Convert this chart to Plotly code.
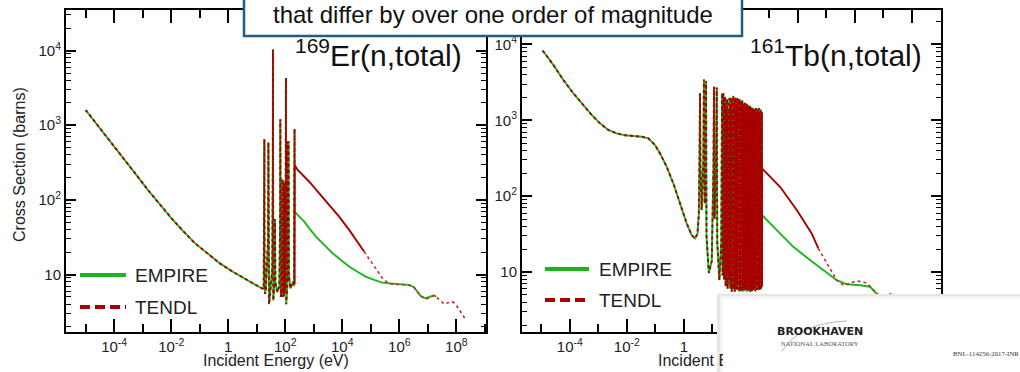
import plotly.graph_objects as go

# ---------------- data: 169Er(n,total) ----------------
# shared part (thermal + resolved resonances), identical in both libraries
er_E_low = [1.0e-5, 2.4e-5, 7.0e-5, 2.06e-4, 6.05e-4, 1.54e-3, 3.95e-3, 1.01e-2, 2.58e-2, 6.6e-2,
            0.17, 0.495, 1.45, 4.25, 14.2,
            17.5, 18.3, 18.5, 18.7, 19.5, 21.0, 25.0, 25.6, 26.2, 27.0, 30.0, 35.0, 36.6, 37.0, 37.4,
            38.0, 41.0, 43.5, 45.0, 52.0, 62.0, 66.2, 67.0, 67.8, 70.0, 76.0, 80.0, 83.0, 86.5, 89.5,
            93.0, 97.0, 103.0, 105.5, 106.5, 108.0, 118.0, 121.0, 124.0, 128.0, 131.0, 134.0, 150.0,
            190.0, 205.0, 211.5, 212.5]
er_xs_low = [1600, 1050, 615, 360, 215, 135, 87, 57, 38.5, 26.5,
             19.8, 14.2, 10.9, 8.5, 6.6,
             6.4, 60, 650, 20, 5.5, 6.5, 30, 590, 8, 4.0, 6.0, 12, 300, 10300, 200,
             4.5, 7, 55, 8, 5.8, 7, 60, 1200, 15, 5, 8, 190, 5, 180, 5.1,
             170, 6, 20, 4300, 60, 4.0, 7, 610, 8, 20, 610, 10, 6.5,
             8, 7, 890, 7.5]
er_empire_E_hi = [213, 310, 465, 695, 1190, 2320, 4540, 8890, 1.74e4, 3.4e4, 6.65e4, 1.3e5, 2.54e5,
                  4.98e5, 9.7e5, 2.18e6, 3.26e6, 4.26e6, 5.57e6, 8.3e6, 1.25e7, 1.63e7, 1.97e7]
er_empire_xs_hi = [69.5, 59.7, 51.2, 41.6, 32.2, 24.9, 19.3, 15.7, 12.8, 10.9, 9.4, 8.47, 7.8,
                   7.57, 7.4, 7.27, 6.76, 5.9, 5.17, 4.81, 5.07, 5.23, 5.07]
er_tendl_E_hi = [213, 272, 406, 695, 1550, 3470, 7760, 1.74e4, 3.4e4, 5.81e4, 8.69e4, 1.49e5, 2.54e5,
                 3.8e5, 5.7e5, 9.7e5, 2.18e6, 3.26e6, 4.26e6, 5.57e6, 8.3e6, 1.25e7, 1.63e7, 2.44e7,
                 3.65e7, 5.46e7, 7.13e7, 9.3e7, 1.22e8, 1.6e8, 1.98e8]
er_tendl_xs_hi = [293, 251, 215, 175, 122, 85.5, 59.7, 39.6, 27.6, 20.3, 16.5, 12.1, 8.9,
                  7.8, 7.4, 7.4, 7.27, 6.76, 5.9, 5.17, 4.67, 5.07, 5.23, 4.67,
                  4.04, 4.21, 4.35, 4.04, 3.43, 2.97, 2.6]
er_tendl_dense_end = 5.81e4   # TENDL drawn with dense points (looks solid) up to here

# ---------------- data: 161Tb(n,total) ----------------
tb_E_low = [1.11e-5, 2.62e-5, 5.89e-5, 1.32e-4, 2.96e-4, 5.81e-4, 1.14e-3, 2.23e-3, 4.39e-3, 8.59e-3,
            1.68e-2, 3.30e-2, 5.66e-2, 9.7e-2, 0.145, 0.249, 0.427, 0.731, 1.25, 1.87, 2.45,
            3.0, 3.35, 3.55, 3.68, 3.8, 4.2, 4.8, 5.05, 5.35, 5.75, 5.97, 6.2, 7.5, 9.5, 10.9, 11.4,
            11.9, 13.6, 14.2, 14.8, 17.5, 20.5, 21.8, 22.8, 24.2, 25.6, 27.7, 29.2, 30.6, 31.6, 32.6,
            34.2, 36.0, 37.3, 38.6, 40.2,
            41.5, 42.7, 43.9, 45.0, 46.3, 47.6, 49.0, 50.2, 51.6, 52.9, 54.3, 55.4, 56.9, 58.0,
            59.5, 60.6, 62.3, 63.5, 65.0, 66.2, 67.8, 69.0, 70.6, 71.9, 73.5, 74.8, 76.4, 77.6,
            79.6, 80.9, 82.7, 84.0, 86.0, 87.3, 89.2, 90.6, 92.7, 94.0, 96.1, 97.5, 99.8, 101.2,
            103.5, 105.0, 107.4, 108.9, 111.3, 112.8, 115.4, 117.0, 119.6, 121.2, 124.0, 125.7,
            128.5, 130.2, 133.1, 134.9, 137.9, 139.7, 142.8, 144.7, 147.9, 149.8, 153.1, 155.1,
            158.6, 160.6, 164.2, 166.3, 170.0, 172.2, 176.0, 178.2, 182.2, 184.5, 188.6, 191.0,
            195.2, 197.7, 202.0, 204.6, 209.0, 211.7, 216.3, 219.1, 223.9, 226.8, 231.7, 234.7,
            239.8, 242.9, 248.2, 251.4, 256.9, 260.2, 265.9, 269.4, 275.2, 278.8, 284.8, 288.5,
            294.8, 298.6, 305.1, 309.1, 315.8, 319.9, 326.8, 331.1, 338.3, 342.7, 350.1, 354.7,
            362.4, 367.1, 375.1, 380.0, 388.2, 393.3, 401.8, 407.1, 415.9, 421.4, 430.5, 436.1,
            445.6, 451.4, 461.2, 467.2, 477.4, 483.6, 494.1, 500.6, 511.4, 518.1, 529.3, 536.2,
            545.0, 546.0]
tb_xs_low = [8300, 5370, 3400, 2270, 1590, 1175, 912, 745, 673, 634,
             621, 608, 578, 472, 366, 244, 147, 80.4, 43.8, 30.7, 27.7,
             32, 60, 400, 2270, 250, 66, 300, 3450, 80, 600, 3300, 30, 9.7, 14, 250, 2770,
             50, 350, 2700, 25, 7.8, 25, 2270, 9, 2270, 8, 2050, 6.5, 1500, 9, 1900,
             6, 1300, 8, 1950, 7,
             1600, 6, 2000, 8, 1200, 5.5, 1900, 7, 1700, 6, 2100, 9, 1400, 6,
             1850, 5.5, 1500, 7, 2000, 6, 1300, 8, 1800, 5.8, 1650, 7, 1950, 6,
             1200, 9, 1750, 6, 1550, 5.5, 1900, 7, 1400, 6, 1800, 8, 1600, 5.6,
             1750, 7, 1350, 6, 1850, 5.5, 1500, 8, 1700, 6, 1250, 7,
             1650, 5.6, 1550, 6.5, 1700, 5.8, 1300, 7, 1600, 6, 1450, 8,
             1650, 5.5, 1200, 6.5, 1550, 6, 1400, 7.5, 1600, 5.6, 1300, 6.5,
             1500, 6, 1150, 7, 1550, 5.5, 1350, 6.5, 1450, 6, 1200, 7,
             1500, 5.6, 1300, 6.5, 1400, 6, 1150, 8, 1450, 5.8, 1250, 6.5,
             1400, 6, 1100, 7, 1350, 5.6, 1200, 6.5, 1450, 6, 1150, 7,
             1300, 5.8, 1400, 6.5, 1150, 6, 1350, 7, 1200, 5.8, 1450, 6.5,
             1100, 6, 1300, 7, 1200, 5.8, 1400, 6.5, 1150, 6, 1300, 7,
             1250, 6.5]
tb_empire_E_hi = [547, 1810, 6900, 2.66e4, 7.8e4, 2.3e5, 5.2e5, 1.51e6, 3.4e6, 6.6e6, 9.9e6, 1.96e7]
tb_empire_xs_hi = [56.4, 35.7, 21.5, 14.4, 10.6, 7.8, 6.9, 6.7, 6.4, 4.95, 4.7, 5.2]
tb_tendl_E_hi = [547, 2360, 9100, 3.05e4, 5.2e4, 1.03e5, 2.3e5, 3.93e5, 6.8e5, 1.16e6, 2.6e6, 5.8e6,
                 9.9e6, 1.96e7, 2.9e7, 5.0e7, 9.0e7, 1.3e8, 2.0e8]
tb_tendl_xs_hi = [233, 133, 65.6, 32.3, 20.5, 13.0, 7.8, 6.7, 7.1, 7.65, 7.2, 5.2,
                  4.7, 5.2, 4.5, 4.2, 4.4, 3.6, 2.8]
tb_tendl_dense_end = 5.2e4

# ---------------- ticks / labels ----------------
x_tickvals = [1e-4, 1e-2, 1, 1e2, 1e4, 1e6, 1e8]
x_ticktext = ["10<sup>-4</sup>", "10<sup>-2</sup>", "1", "10<sup>2</sup>", "10<sup>4</sup>",
              "10<sup>6</sup>", "10<sup>8</sup>"]
x_minor = [1e-5, 1e-3, 1e-1, 1e1, 1e3, 1e5, 1e7, 1e9]
y_tickvals = [10, 100, 1000, 10000]
y_ticktext = ["10", "10<sup>2</sup>", "10<sup>3</sup>", "10<sup>4</sup>"]
y_minor = [m * 10 ** k for k in range(0, 5) for m in range(2, 10)]

GREEN = "#1eb41e"
RED = "#a80000"
FONT = "Liberation Sans"
W, H = 1020, 372


def px(x):
    return x / W


def py(y):
    return 1 - y / H


def split(E, s, e_cut):
    """split one series at e_cut (the cut point belongs to both pieces)."""
    i = max(k for k, e in enumerate(E) if e <= e_cut)
    return (E[:i + 1], s[:i + 1]), (E[i:], s[i:])


fig = go.Figure()


def add_panel(xa, ya, E_low, xs_low, E_emp, xs_emp, E_ten, xs_ten, dense_end):
    fig.add_trace(go.Scatter(x=E_low + E_emp, y=xs_low + xs_emp, mode="lines",
                             line=dict(color=GREEN, width=1.9),
                             xaxis=xa, yaxis=ya, showlegend=False))
    # TENDL: overlapping region (red dashes over green)
    fig.add_trace(go.Scatter(x=E_low + E_ten[:1], y=xs_low + xs_ten[:1], mode="lines",
                             line=dict(color=RED, width=1.9, dash="3px,3px"),
                             xaxis=xa, yaxis=ya, showlegend=False))
    (e1, s1), (e2, s2) = split(E_ten, xs_ten, dense_end)
    fig.add_trace(go.Scatter(x=[E_low[-1]] + e1, y=[xs_low[-1]] + s1, mode="lines",
                             line=dict(color=RED, width=1.9),
                             xaxis=xa, yaxis=ya, showlegend=False))
    fig.add_trace(go.Scatter(x=e2, y=s2, mode="lines",
                             line=dict(color="#c03030", width=1.6, dash="3px,3px"),
                             xaxis=xa, yaxis=ya, showlegend=False))


add_panel("x", "y", er_E_low, er_xs_low, er_empire_E_hi, er_empire_xs_hi,
          er_tendl_E_hi, er_tendl_xs_hi, er_tendl_dense_end)
add_panel("x2", "y2", tb_E_low, tb_xs_low, tb_empire_E_hi, tb_empire_xs_hi,
          tb_tendl_E_hi, tb_tendl_xs_hi, tb_tendl_dense_end)

tickfont = dict(family=FONT, size=15, color="#222")


def xax(domain, rng, anchor):
    return dict(domain=domain, type="log", range=rng, anchor=anchor,
                showline=True, linecolor="black", linewidth=2, mirror="allticks",
                ticks="inside", ticklen=13, tickwidth=1.5, tickcolor="black",
                tickmode="array", tickvals=x_tickvals, ticktext=x_ticktext,
                tickfont=tickfont, showgrid=False, zeroline=False,
                minor=dict(ticks="inside", ticklen=8, tickwidth=1.5, tickcolor="black",
                           tickvals=x_minor, showgrid=False))


def yax(domain, rng, anchor):
    return dict(domain=domain, type="log", range=rng, anchor=anchor,
                showline=True, linecolor="black", linewidth=2, mirror="allticks",
                ticks="inside", ticklen=10, tickwidth=1.5, tickcolor="black",
                tickmode="array", tickvals=y_tickvals, ticktext=y_ticktext,
                tickfont=tickfont, showgrid=False, zeroline=False,
                minor=dict(ticks="inside", ticklen=5, tickwidth=1.2, tickcolor="black",
                           tickvals=y_minor, showgrid=False))


ydom = [py(332), py(9.5)]
fig.update_layout(
    width=W, height=H, margin=dict(l=0, r=0, t=0, b=0),
    paper_bgcolor="white", plot_bgcolor="white",
    xaxis=xax([px(66), px(486)], [-5.69, 9.04], "y"),
    yaxis=yax(ydom, [0.23, 4.55], "x"),
    xaxis2=xax([px(522), px(941)], [-5.68, 9.02], "y2"),
    yaxis2=yax(ydom, [0.21, 4.46], "x2"),
    # outer half of the major ticks on the left frame of the left panel
    yaxis3=dict(domain=ydom, type="log", range=[0.23, 4.55], overlaying="y", anchor="x",
                side="left", showline=False, ticks="outside", ticklen=6, tickwidth=1.5,
                tickcolor="black", tickmode="array", tickvals=y_tickvals,
                showticklabels=False, showgrid=False, zeroline=False),
)

ann = []
shapes = []


def text(x, y, s, size, xanchor="center", yanchor="middle", family=FONT, color="#111",
         angle=0):
    ann.append(dict(x=px(x), y=py(y), xref="paper", yref="paper", text=s, showarrow=False,
                    xanchor=xanchor, yanchor=yanchor, textangle=angle,
                    font=dict(family=family, size=size, color=color)))


# axis titles
text(19, 165, "Cross Section (barns)", 16, angle=-90, color="#222")
text(276, 360, "Incident Energy (eV)", 16, color="#222")
text(731, 360, "Incident Energy (eV)", 16, color="#222")

# panel titles
text(464, 53, "<sup>169</sup>Er(n,total)", 30, xanchor="right")
text(924, 53, "<sup>161</sup>Tb(n,total)", 30, xanchor="right")

# legends (drawn in pixel space)
for (x0, x1, xt, y1, y2) in [(80, 126, 133, 275, 307), (545, 589, 597, 269, 300)]:
    shapes.append(dict(type="line", xref="paper", yref="paper", x0=px(x0), x1=px(x1),
                       y0=py(y1), y1=py(y1), line=dict(color=GREEN, width=4)))
    shapes.append(dict(type="line", xref="paper", yref="paper", x0=px(x0), x1=px(x1),
                       y0=py(y2), y1=py(y2), line=dict(color=RED, width=4, dash="10px,5px")))
    text(xt, y1, "EMPIRE", 19, xanchor="left", color="#222")
    text(xt, y2, "TENDL", 19, xanchor="left", color="#222")

# callout box at top
shapes.append(dict(type="rect", xref="paper", yref="paper", x0=px(244), x1=px(742),
                   y0=py(36), y1=py(-5), fillcolor="white",
                   line=dict(color="#1f5f7e", width=2.5)))
text(493, 15, "that differ by over one order of magnitude", 24, color="#111")

# laboratory logo card (bottom right), drawn over the right panel
shapes.append(dict(type="rect", xref="paper", yref="paper", x0=px(717), x1=px(1030),
                   y0=py(380), y1=py(294), fillcolor="#e6e6e6", line=dict(width=0)))
shapes.append(dict(type="rect", xref="paper", yref="paper", x0=px(720), x1=px(1030),
                   y0=py(380), y1=py(296), fillcolor="#f3f3f3", line=dict(width=0)))
shapes.append(dict(type="rect", xref="paper", yref="paper", x0=px(722.5), x1=px(1030),
                   y0=py(380), y1=py(298.5), fillcolor="white", line=dict(width=0)))
# white patch so that the card also hides the tail of the right axis title
ann.append(dict(x=px(722.5), y=py(351), xref="paper", yref="paper", text=" ",
                showarrow=False, xanchor="left", yanchor="top", width=95, height=21,
                bgcolor="white", borderpad=0, borderwidth=0))
shapes.append(dict(type="path", xref="paper", yref="paper",
                   path="M %.5f %.5f Q %.5f %.5f %.5f %.5f" % (px(782), py(351), px(800), py(323),
                                                             px(847), py(321)),
                   line=dict(color="#b5b5b5", width=1)))
text(820, 331.5, "<b>BROOKHAVEN</b>", 11, family="DejaVu Sans", color="#222")
text(820, 343, "NATIONAL LABORATORY", 6.5, family="Liberation Serif", color="#555")
text(951, 353, "BNL-114256-2017-INR", 6.8, xanchor="left", family="Liberation Serif",
     color="#333")

fig.update_layout(annotations=ann, shapes=shapes)
fig.write_html("out.html")
